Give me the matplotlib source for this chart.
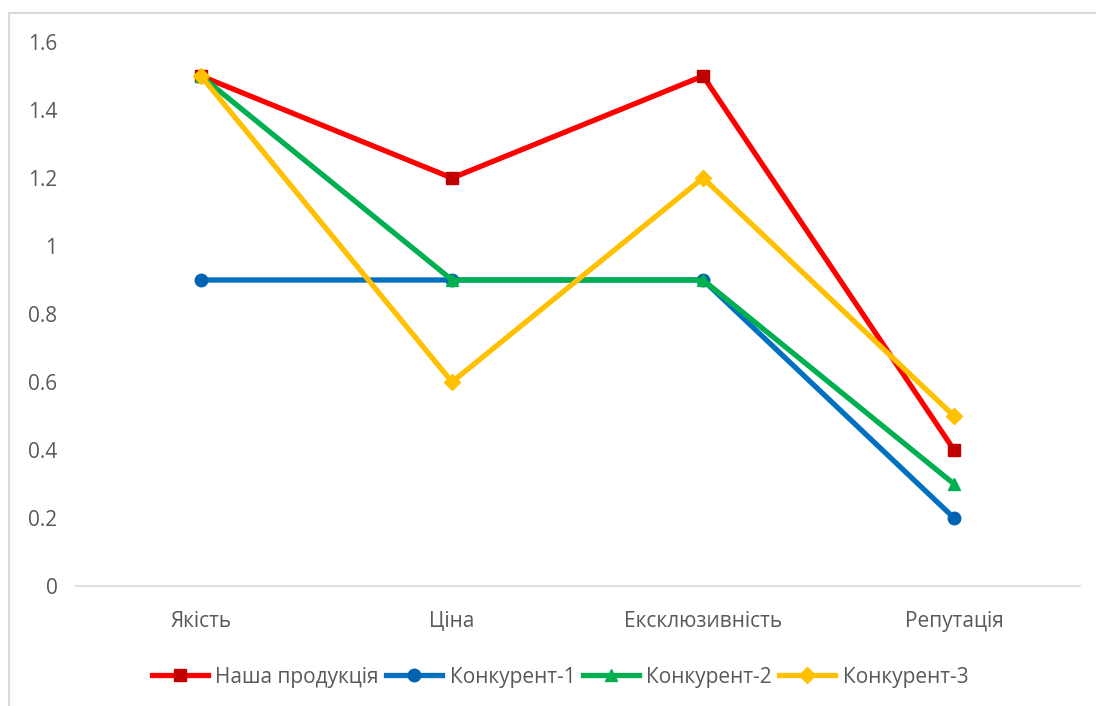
import matplotlib.pyplot as plt
from matplotlib.patches import Rectangle

plt.rcParams['font.family'] = ['Open Sans', 'DejaVu Sans']

categories = ['Якість', 'Ціна', 'Ексклюзивність', 'Репутація']
nasha = [1.5, 1.2, 1.5, 0.4]
konk1 = [0.9, 0.9, 0.9, 0.2]
konk2 = [1.5, 0.9, 0.9, 0.3]
konk3 = [1.5, 0.6, 1.2, 0.5]
yticks = [0, 0.2, 0.4, 0.6, 0.8, 1, 1.2, 1.4, 1.6]
ytick_labels = ['0', '0.2', '0.4', '0.6', '0.8', '1', '1.2', '1.4', '1.6']

text_col = '#595959'

fig = plt.figure(figsize=(10.96, 7.06), dpi=100)
# рамка навколо діаграми
fig.patches.append(Rectangle((9 / 1096, -0.05), 1.2, 1 - 13 / 706 + 0.05,
                             transform=fig.transFigure, fill=False,
                             edgecolor='#d9d9d9', linewidth=1.5))

ax = fig.add_axes([0.0689, 0.170, 0.9161, 0.7705])
x = range(len(categories))

ax.plot(x, nasha, color='#FF0000', lw=3.8, marker='s', ms=9,
        mfc='#C00000', mec='#C00000', label='Наша продукція')
ax.plot(x, konk1, color='#0070C0', lw=3.8, marker='o', ms=9,
        mfc='#0063B1', mec='#0063B1', label='Конкурент-1')
ax.plot(x, konk2, color='#00B050', lw=3.8, marker='^', ms=9,
        mfc='#00B050', mec='#00B050', label='Конкурент-2')
ax.plot(x, konk3, color='#FFC000', lw=3.8, marker='D', ms=8,
        mfc='#FFC000', mec='#FFC000', label='Конкурент-3')

ax.set_xlim(-0.5, 3.5)
ax.set_ylim(0, 1.6)
ax.set_xticks(list(x))
ax.set_xticklabels(categories)
ax.set_yticks(yticks)
ax.set_yticklabels(ytick_labels)
ax.tick_params(axis='both', length=0, labelsize=15, colors=text_col)
ax.tick_params(axis='x', pad=18)
ax.tick_params(axis='y', pad=13)
for s in ['top', 'right', 'left']:
    ax.spines[s].set_visible(False)
ax.spines['bottom'].set_color('#d9d9d9')
ax.spines['bottom'].set_linewidth(1.2)

leg = fig.legend(loc='center', bbox_to_anchor=(0.511, 1 - 677 / 706), ncol=4,
                 frameon=False, fontsize=15, handlelength=2.7,
                 handletextpad=0.35, columnspacing=0.35)
for t in leg.get_texts():
    t.set_color(text_col)

fig.savefig('out.png', dpi=100)
